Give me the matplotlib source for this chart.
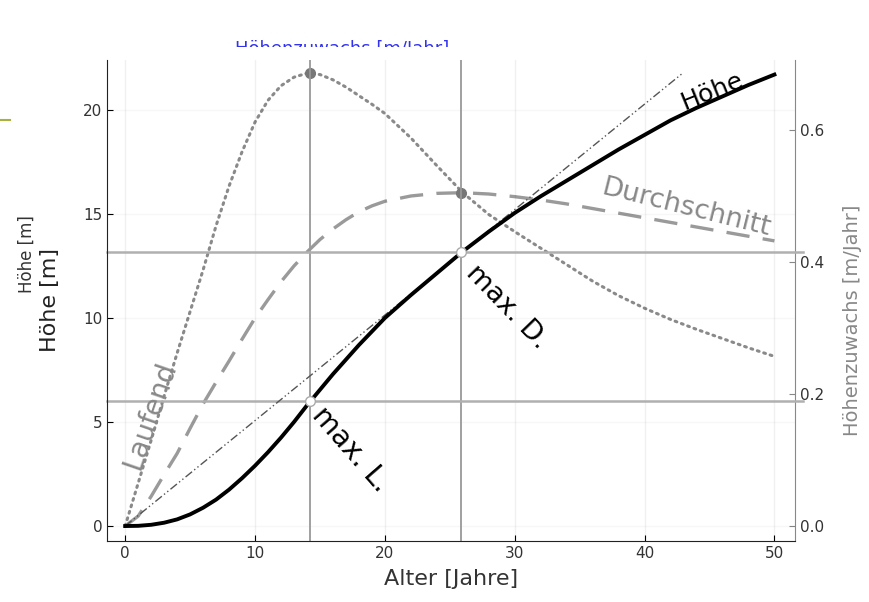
import matplotlib
matplotlib.use("Agg")
import matplotlib.pyplot as plt
from matplotlib.patches import Rectangle
from matplotlib.lines import Line2D

# Alter in Jahren: bis 20 jaehrlich, danach alle 2 Jahre
alter = [0, 1, 2, 3, 4, 5, 6, 7, 8, 9, 10, 11, 12, 13, 14, 15, 16, 17, 18,
         19, 20, 22, 24, 26, 28, 30, 32, 34, 36, 38, 40, 42, 44, 46, 48, 50]

# Hoehe [m]
hoehe = [0.0, 0.01, 0.06, 0.16, 0.32, 0.56, 0.88, 1.27, 1.75, 2.3, 2.9,
         3.55, 4.25, 5.0, 5.8, 6.55, 7.3, 8.0, 8.7, 9.35, 10.0,
         11.1, 12.15, 13.2, 14.15, 15.05, 15.85, 16.6, 17.35, 18.1, 18.8,
         19.5, 20.1, 20.65, 21.2, 21.7]

# laufender Hoehenzuwachs [m/Jahr]
laufend = [0.0, 0.065, 0.13, 0.197, 0.262, 0.325, 0.388, 0.455, 0.515,
           0.567, 0.612, 0.645, 0.667, 0.68, 0.686, 0.684, 0.676, 0.665,
           0.652, 0.639, 0.625,
           0.588, 0.546, 0.505, 0.472, 0.446, 0.421, 0.396, 0.371, 0.349,
           0.33, 0.313, 0.298, 0.284, 0.27, 0.257]

# durchschnittlicher Hoehenzuwachs [m/Jahr]
durchschnitt = [0.0, 0.015, 0.045, 0.078, 0.11, 0.148, 0.185, 0.218, 0.25,
                0.283, 0.315, 0.343, 0.37, 0.394, 0.415, 0.434, 0.45,
                0.464, 0.476, 0.485, 0.492,
                0.5, 0.504, 0.505, 0.503, 0.499, 0.494, 0.488, 0.481,
                0.474, 0.467, 0.46, 0.453, 0.446, 0.439, 0.432]

# Kulminationspunkte
max_l_alter, max_l_hoehe, max_l_zuwachs = 14.2, 6.0, 0.686
max_d_alter, max_d_hoehe, max_d_zuwachs = 25.9, 13.15, 0.505

# Tangente durch den Ursprung (beruehrt die Hoehenkurve bei max. D.)
tangente_x = [0, 43]
tangente_y = [0, 21.8]

fig = plt.figure(figsize=(8.7, 6.02), dpi=100)
ax = fig.add_axes([0.123, 0.1013, 0.791, 0.799])
ax2 = ax.twinx()

ax.set_xlim(-1.4, 51.6)
ax.set_ylim(-0.72, 22.4)
ax2.set_ylim(-0.0227, 0.706)

# Gitter sehr blass
for x in [0, 10, 20, 30, 40, 50]:
    ax.axvline(x, color="#000000", alpha=0.06, lw=1, zorder=0)
for y in [0, 5, 10, 15, 20]:
    ax.axhline(y, color="#000000", alpha=0.03, lw=1, zorder=0)

# Hilfslinien an den Kulminationspunkten
for xv in [max_l_alter, max_d_alter]:
    ax.axvline(xv, color="#999999", lw=1.3, zorder=1)
for yh in [max_l_hoehe, max_d_hoehe]:
    ax.axhline(yh, xmin=0, xmax=1.012, color="#b0b0b0", lw=1.8, zorder=1,
               clip_on=False)

# Zuwachskurven auf der rechten Achse
ax2.plot(alter, laufend, color="#8a8a8a", lw=2.2, ls=(0, (0.6, 1.6)),
         dash_capstyle="round", zorder=2)
ax2.plot(alter, durchschnitt, color="#9a9a9a", lw=2.4, ls=(0, (7, 4)),
         zorder=2)
ax2.plot([max_l_alter], [max_l_zuwachs], "o", ms=7, color="#777777", zorder=5)
ax2.plot([max_d_alter], [max_d_zuwachs], "o", ms=7, color="#777777", zorder=5)

# Hoehenkurve und Tangente
ax2.set_zorder(ax.get_zorder() - 1)
ax.patch.set_visible(False)
ax.plot(tangente_x, tangente_y, color="#555555", lw=1.0,
        ls=(0, (6, 2, 1, 2, 1, 2)), zorder=3)
ax.plot(alter, hoehe, color="black", lw=2.8, zorder=4)
ax.plot([max_l_alter, max_d_alter], [max_l_hoehe, max_d_hoehe], "o", ms=7,
        mfc="white", mec="#aaaaaa", mew=1, zorder=6)

# Beschriftungen an den Kurven
ax.text(45.2, 20.9, "Höhe", fontsize=18, rotation=22, color="black",
        ha="center", va="center", rotation_mode="anchor")
ax.text(43.2, 15.3, "Durchschnitt", fontsize=19.5, rotation=-14,
        color="#888888", ha="center", va="center", rotation_mode="anchor")
ax.text(1.9, 5.3, "Laufend", fontsize=20, rotation=71, color="#888888",
        ha="center", va="center", rotation_mode="anchor")
ax.text(29.4, 10.5, "max. D.", fontsize=19.5, rotation=-46, color="black",
        ha="center", va="center", rotation_mode="anchor")
ax.text(17.4, 3.7, "max. L.", fontsize=20, rotation=-49, color="black",
        ha="center", va="center", rotation_mode="anchor")

# Achsen
ax.set_xticks([0, 10, 20, 30, 40, 50])
ax.set_yticks([0, 5, 10, 15, 20])
ax2.set_yticks([0.0, 0.2, 0.4, 0.6])
ax2.set_yticklabels(["0.0", "0.2", "0.4", "0.6"])
for a in (ax, ax2):
    a.tick_params(direction="in", length=4, labelsize=11, labelcolor="#333333")
    a.spines["top"].set_visible(False)
ax.spines["left"].set_color("#222222")
ax.spines["bottom"].set_color("#222222")
ax.spines["right"].set_visible(False)
ax2.spines["left"].set_visible(False)
ax2.spines["bottom"].set_visible(False)
ax2.spines["right"].set_color("#888888")
ax2.tick_params(axis="y", colors="#888888", labelcolor="#333333")

ax.set_xlabel("Alter [Jahre]", fontsize=16, color="#333333", labelpad=6)
fig.text(0.057, 0.502, "Höhe [m]", fontsize=16, rotation=90, color="#222222",
         ha="center", va="center")
fig.text(0.031, 0.578, "Höhe [m]", fontsize=12, rotation=90, color="#333333",
         ha="center", va="center")
fig.text(0.98, 0.468, "Höhenzuwachs [m/Jahr]", fontsize=14, rotation=90,
         color="#888888", ha="center", va="center")

# halb verdeckter Titel oben
fig.text(0.27, 1 - 54 / 602, "Höhenzuwachs [m/Jahr]", fontsize=13,
         color="#3333ee", ha="left", va="baseline")
fig.patches.append(Rectangle((0.25, 0.903), 0.3, 1 - 47 / 602 - 0.903,
                             transform=fig.transFigure, facecolor="white",
                             edgecolor="none", zorder=10))
fig.lines.append(Line2D([0.0, 0.012], [0.8, 0.8], transform=fig.transFigure,
                        color="#a8b040", lw=1.5))

fig.savefig("out.png", dpi=100, facecolor="white")
